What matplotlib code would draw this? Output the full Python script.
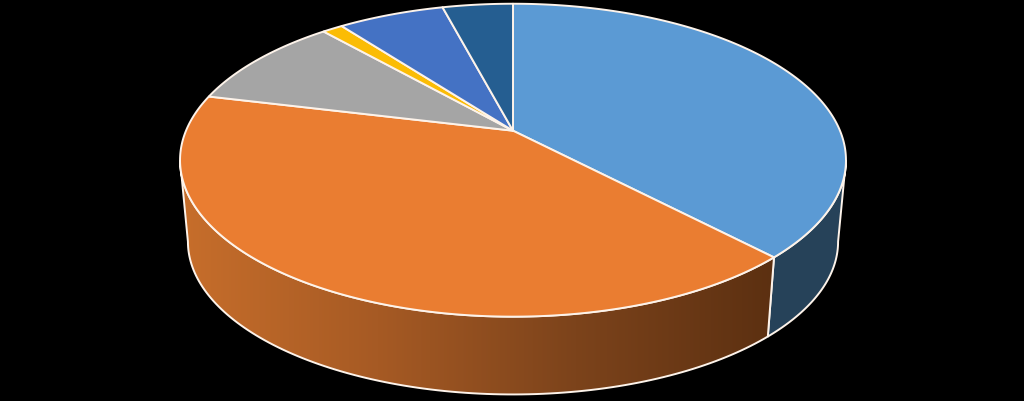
import matplotlib
matplotlib.use('Agg')
import matplotlib.pyplot as plt
from matplotlib.colors import LinearSegmentedColormap
from matplotlib.patches import Polygon
import numpy as np

# slice shares in percent, clockwise from twelve o'clock
shares = [37.9, 40.9, 9.7, 1.2, 6.2, 4.1]
top_colors = ['#5b9ad4', '#ea7d31', '#a5a5a5', '#fbbc05', '#4472c4', '#255e91']
side_colors = ['#264259', None, None, None, None, None]
edge = '#fdf3ea'

# projection of the tilted disc
cx, cy = 513, 131.7
a, b, k = 327, 150.9, 0.1885
vanish_y, depth_scale = 3600, 0.9763


def top_point(deg):
    t = np.radians(deg)
    u, v = np.sin(t), np.cos(t)
    w = 1 + k * v
    return np.column_stack([cx + a * u / w, cy - b * v / w])


def bottom_point(deg):
    p = top_point(deg)
    p[:, 0] = cx + (p[:, 0] - cx) * depth_scale
    p[:, 1] = vanish_y + (p[:, 1] - vanish_y) * depth_scale
    return p


def side_outline(start, end):
    angles = np.linspace(start, end, 120)
    return np.vstack([top_point(angles), bottom_point(angles)[::-1]])


fig, ax = plt.subplots(figsize=(10.24, 4.02), dpi=100)
fig.patch.set_facecolor('black')
ax.set_position([0, 0, 1, 1])
ax.set_xlim(0, 1024)
ax.set_ylim(402, 0)
ax.axis('off')

bounds = np.concatenate([[0], np.cumsum(shares) / sum(shares) * 360])
right_limit = np.degrees(np.arccos(-k))
left_limit = 360 - right_limit

# walls: only the front part of the rim shows
blue_side = Polygon(side_outline(right_limit, bounds[1]), closed=True,
                    facecolor=side_colors[0], edgecolor=edge, linewidth=1.4, zorder=1)
ax.add_patch(blue_side)

orange_pts = side_outline(bounds[1], left_limit)
orange_side = Polygon(orange_pts, closed=True, facecolor='none', edgecolor='none', zorder=1)
ax.add_patch(orange_side)
ramp = LinearSegmentedColormap.from_list('wall', ['#c76e2b', '#a65a24', '#7c431b', '#5c3011'])
img = ax.imshow(np.linspace(0, 1, 256)[None, :], cmap=ramp, aspect='auto', zorder=1,
                extent=[orange_pts[:, 0].min(), orange_pts[:, 0].max(), 402, 0])
img.set_clip_path(orange_side)
ax.set_xlim(0, 1024)
ax.set_ylim(402, 0)
ax.add_patch(Polygon(orange_pts, closed=True, facecolor='none', edgecolor=edge,
                     linewidth=1.4, zorder=2))

# top faces
for i, color in enumerate(top_colors):
    arc = top_point(np.linspace(bounds[i], bounds[i + 1], 200))
    pts = np.vstack([[cx, cy], arc])
    ax.add_patch(Polygon(pts, closed=True, facecolor=color, edgecolor=edge,
                         linewidth=1.4, joinstyle='round', zorder=3))

fig.savefig('out.png', dpi=100, facecolor='black')
